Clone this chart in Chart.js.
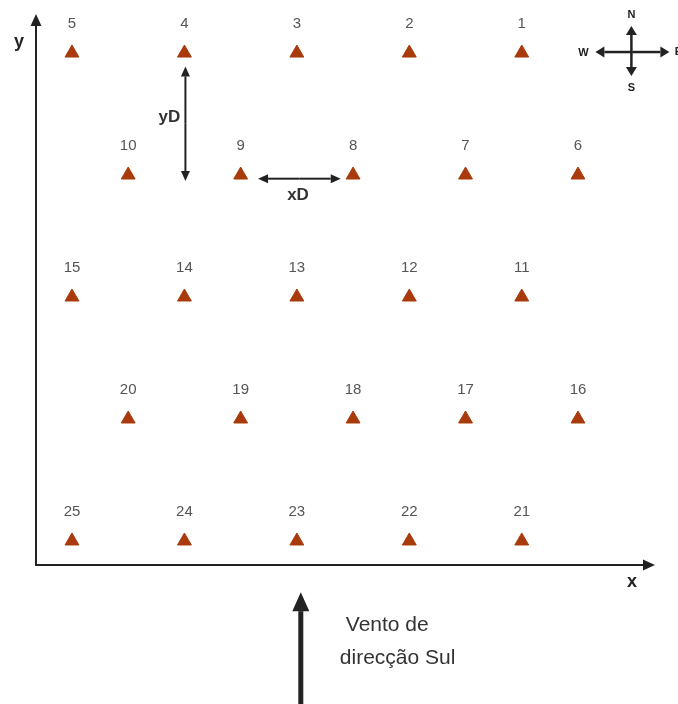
<!DOCTYPE html>
<html lang="pt">
<head>
<meta charset="UTF-8">
<title>Disposição dos pontos de medição</title>
<script src="https://cdn.jsdelivr.net/npm/chart.js"></script>
<style>
  body{margin:0;background:#fff}
  #wrap{width:678px;height:704px}
</style>
</head>
<body>
<div id="wrap"><canvas id="grelha"></canvas></div>

<script>
// pontos (numero, coluna, linha)
const estacoes = [5,4,3,2,1, 10,9,8,7,6, 15,14,13,12,11, 20,19,18,17,16, 25,24,23,22,21];
const posX     = [1,3,5,7,9, 2,4,6,8,10, 1,3,5,7,9, 2,4,6,8,10, 1,3,5,7,9];
const posY     = [5,5,5,5,5, 4,4,4,4,4, 3,3,3,3,3, 2,2,2,2,2, 1,1,1,1,1];

const txtVento = ['Vento de', 'direcção Sul'];

function seta(ctx, x1, y1, x2, y2, lw, comp, larg){
  const a = Math.atan2(y2 - y1, x2 - x1);
  const bx = x2 - Math.cos(a) * comp, by = y2 - Math.sin(a) * comp;
  ctx.lineWidth = lw;
  ctx.beginPath(); ctx.moveTo(x1, y1); ctx.lineTo(bx, by); ctx.stroke();
  ctx.beginPath();
  ctx.moveTo(x2, y2);
  ctx.lineTo(bx + Math.sin(a) * larg / 2, by - Math.cos(a) * larg / 2);
  ctx.lineTo(bx - Math.sin(a) * larg / 2, by + Math.cos(a) * larg / 2);
  ctx.closePath(); ctx.fill();
}
function seta2(ctx, x1, y1, x2, y2, lw, comp, larg){
  const mx = (x1 + x2) / 2, my = (y1 + y2) / 2;
  seta(ctx, mx, my, x1, y1, lw, comp, larg);
  seta(ctx, mx, my, x2, y2, lw, comp, larg);
}

const desenho = {
  id: 'desenho',
  afterDatasetsDraw(chart){
    const ctx = chart.ctx, xs = chart.scales.x, ys = chart.scales.y;
    ctx.save();
    ctx.strokeStyle = '#222'; ctx.fillStyle = '#222';

    // eixos
    seta(ctx, xs.left, ys.bottom + 1, xs.left, ys.top, 2, 12, 11);
    seta(ctx, xs.left - 1, ys.bottom, xs.right, ys.bottom, 2, 12, 11);
    ctx.font = 'bold 18px "Liberation Sans", Arial';
    ctx.textAlign = 'center'; ctx.textBaseline = 'middle';
    ctx.fillText('y', xs.left - 17, ys.top + 28);
    ctx.fillText('x', xs.right - 23, ys.bottom + 17);

    // numeros dos pontos
    ctx.fillStyle = '#555';
    ctx.font = '15px "Liberation Sans", Arial';
    estacoes.forEach((n, i) => {
      ctx.fillText(String(n), xs.getPixelForValue(posX[i]), ys.getPixelForValue(posY[i]) - 29);
    });

    // yD e xD
    ctx.fillStyle = '#222';
    const xa = xs.getPixelForValue(3) + 1;
    seta2(ctx, xa, ys.getPixelForValue(4.89), xa, ys.getPixelForValue(3.95), 2, 10, 9);
    const ya = ys.getPixelForValue(3.97);
    seta2(ctx, xs.getPixelForValue(4.31), ya, xs.getPixelForValue(5.78), ya, 2, 10, 9);
    ctx.fillStyle = '#333';
    ctx.font = 'bold 17px "Liberation Sans", Arial';
    ctx.fillText('yD', xa - 16, ys.getPixelForValue(4.47));
    ctx.fillText('xD', xs.getPixelForValue(5.02), ya + 17);

    // rosa dos ventos
    ctx.fillStyle = '#222';
    const cx = xs.getPixelForValue(10.95), cy = ys.getPixelForValue(5.0) - 1;
    seta2(ctx, cx, cy - 26, cx, cy + 24, 2.5, 9, 11);
    seta2(ctx, cx - 36, cy, cx + 38, cy, 2.5, 9, 11);
    ctx.font = 'bold 11px "Liberation Sans", Arial';
    ctx.fillText('N', cx, cy - 37);
    ctx.fillText('S', cx, cy + 36);
    ctx.fillText('W', cx - 48, cy + 1);
    ctx.fillText('E', cx + 47, cy);

    // vento
    const vx = xs.getPixelForValue(5.07);
    seta(ctx, vx, chart.height, vx, ys.getPixelForValue(0.58), 5, 19, 17);
    ctx.fillStyle = '#333';
    ctx.font = '21px "Liberation Sans", Arial';
    ctx.textAlign = 'left';
    ctx.fillText(txtVento[0], vx + 45, ys.getPixelForValue(0.31));
    ctx.fillText(txtVento[1], vx + 39, ys.getPixelForValue(0.04));
    ctx.restore();
  }
};

new Chart(document.getElementById('grelha'), {
  type: 'scatter',
  data: {
    datasets: [{
      data: posX.map((x, i) => ({ x: x, y: posY[i] })),
      pointStyle: 'triangle',
      pointRadius: 8,
      pointHoverRadius: 8,
      backgroundColor: '#A83A0C',
      borderColor: '#A83A0C',
      borderWidth: 1
    }]
  },
  options: {
    responsive: true,
    maintainAspectRatio: false,
    animation: false,
    events: [],
    layout: { padding: { left: 36, top: 14, right: 23, bottom: 139 } },
    plugins: { legend: { display: false }, tooltip: { enabled: false } },
    scales: {
      x: { type: 'linear', display: false, min: 0.36, max: 11.37 },
      y: { type: 'linear', display: false, min: 0.803, max: 5.32 }
    }
  },
  plugins: [desenho]
});
</script>
</body>
</html>
